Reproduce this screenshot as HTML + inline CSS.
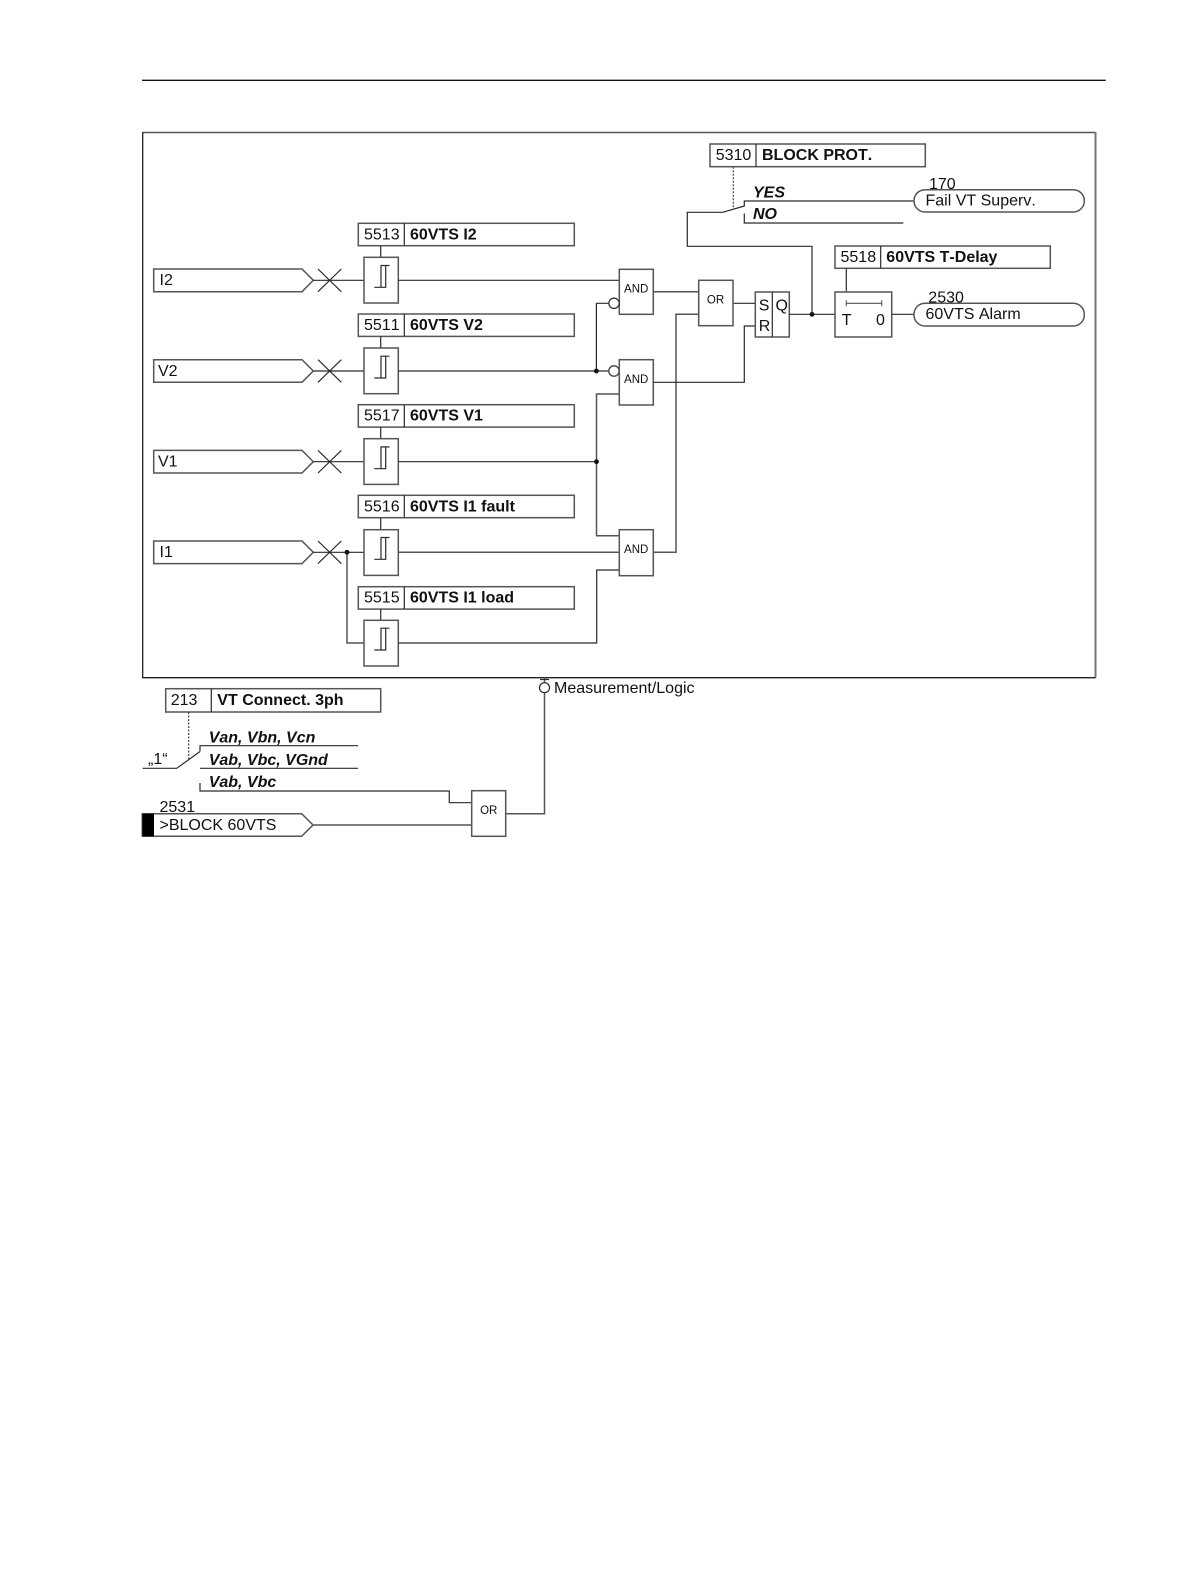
<!DOCTYPE html>
<html>
<head>
<meta charset="utf-8">
<title>60VTS logic diagram</title>
<style>
html,body{margin:0;padding:0;background:#fff;width:1191px;height:1587px;overflow:hidden}
svg{display:block}
.l{fill:none;stroke:#2a2a2a;stroke-width:1.2}
.m{fill:none;stroke:#555;stroke-width:1.5}
.b{fill:#fff;stroke:#555;stroke-width:1.5}
text{font-family:"Liberation Sans",sans-serif;font-size:16px;fill:#111;font-kerning:none}
.h{font-weight:bold}
.i{font-weight:bold;font-style:italic}
.g{font-size:11.5px;text-anchor:middle}
</style>
</head>
<body>
<svg width="1191" height="1587" viewBox="0 0 1191 1587" xmlns="http://www.w3.org/2000/svg">
<path d="M142 80.3H1105.7" fill="none" stroke="#111" stroke-width="1.4"/>
<path d="M142.7 132.5H1095.5" fill="none" stroke="#555" stroke-width="1.5"/>
<path d="M1095.5 132V677.7" fill="none" stroke="#777" stroke-width="2"/>
<path d="M142.7 132V677.7H1095.5" fill="none" stroke="#222" stroke-width="1.3"/>

<!-- Input flags -->
<path class="b" d="M153.7 269H302L313.3 280.3L302 291.7H153.7Z"/>
<path class="b" d="M153.7 359.7H302L313.3 371L302 382.3H153.7Z"/>
<path class="b" d="M153.7 450.4H302L313.3 461.7L302 473H153.7Z"/>
<path class="b" d="M153.7 541H302L313.3 552.3L302 563.6H153.7Z"/>
<text x="159.5" y="285">I2</text>
<text x="158" y="376">V2</text>
<text x="158" y="466.5">V1</text>
<text x="159.5" y="557">I1</text>

<!-- Input lines and crosses -->
<path class="l" d="M313.3 280.3H363.7M318 269L341.3 291.7M318 291.7L341.3 269"/>
<path class="l" d="M313.3 371H363.7M318 359.7L341.3 382.3M318 382.3L341.3 359.7"/>
<path class="l" d="M313.3 461.7H363.7M318 450.4L341.3 473M318 473L341.3 450.4"/>
<path class="l" d="M313.3 552.3H364M318 541L341.3 563.6M318 563.6L341.3 541"/>
<path class="m" d="M347 552.3V643H364"/>
<circle cx="347" cy="552.3" r="2.4" fill="#111"/>

<!-- Parameter boxes -->
<rect class="b" x="358.3" y="223.3" width="216" height="22.4"/>
<path class="l" d="M404.3 223.3V245.7M380.7 245.7V257.3"/>
<text x="364" y="239.3">5513</text><text class="h" x="410" y="239.3">60VTS I2</text>

<rect class="b" x="358.3" y="314" width="216" height="22.4"/>
<path class="l" d="M404.3 314V336.4M380.7 336.4V348"/>
<text x="364" y="330">5511</text><text class="h" x="410" y="330">60VTS V2</text>

<rect class="b" x="358.3" y="404.7" width="216" height="22.4"/>
<path class="l" d="M404.3 404.7V427.1M380.7 427.1V438.7"/>
<text x="364" y="420.7">5517</text><text class="h" x="410" y="420.7">60VTS V1</text>

<rect class="b" x="358.3" y="495.3" width="216" height="22.4"/>
<path class="l" d="M404.3 495.3V517.7M380.7 517.7V529.7"/>
<text x="364" y="511.3">5516</text><text class="h" x="410" y="511.3">60VTS I1 fault</text>

<rect class="b" x="358.3" y="586.7" width="216" height="22.4"/>
<path class="l" d="M404.3 586.7V609.1M380.7 609.1V620.3"/>
<text x="364" y="602.7">5515</text><text class="h" x="410" y="602.7">60VTS I1 load</text>

<!-- Hysteresis blocks -->
<rect class="b" x="364" y="257.3" width="34.3" height="45.7"/>
<path class="l" d="M374.3 287.3H385.7V265.5H389.5M381 287.3V265.5H385.7"/>
<rect class="b" x="364" y="348" width="34.3" height="45.7"/>
<path class="l" d="M374.3 378H385.7V356.2H389.5M381 378V356.2H385.7"/>
<rect class="b" x="364" y="438.7" width="34.3" height="45.7"/>
<path class="l" d="M374.3 468.7H385.7V446.9H389.5M381 468.7V446.9H385.7"/>
<rect class="b" x="364" y="529.7" width="34.3" height="45.7"/>
<path class="l" d="M374.3 559.3H385.7V537.5H389.5M381 559.3V537.5H385.7"/>
<rect class="b" x="364" y="620.3" width="34.3" height="45.7"/>
<path class="l" d="M374.3 650H385.7V628.2H389.5M381 650V628.2H385.7"/>

<!-- Wiring to AND gates -->
<path class="l" d="M398.3 280.3H619.3"/>
<path class="l" d="M398.3 371H609"/>
<path class="l" d="M398.3 461.7H596.5"/>
<path class="m" d="M398.3 552.3H619.3"/>
<path class="l" d="M398.3 643H596.7V570H619.3"/>
<path class="l" d="M609 303.3H596.4V371"/>
<path class="m" d="M619.3 394H596.5V535.7H619.3"/>
<circle cx="596.4" cy="371" r="2.4" fill="#111"/>
<circle cx="596.5" cy="461.7" r="2.4" fill="#111"/>

<!-- AND gates -->
<rect class="b" x="619.3" y="269.3" width="34" height="45"/>
<rect class="b" x="619.3" y="359.7" width="34" height="45.3"/>
<rect class="b" x="619.3" y="529.7" width="34" height="46"/>
<circle class="l" cx="614" cy="303.3" r="5.2" style="fill:#fff"/>
<circle class="b" cx="614" cy="371" r="5.2"/>
<text class="g" x="636.2" y="292.5">AND</text>
<text class="g" x="636.2" y="383">AND</text>
<text class="g" x="636.2" y="553">AND</text>

<!-- OR and SR -->
<path class="m" d="M653.3 291.7H698.7"/>
<path class="m" d="M653.3 552.3H676V314.3H698.7"/>
<path class="l" d="M653.3 382.3H744.3V326H755.3"/>
<path class="l" d="M733 303.3H755.3"/>
<rect class="b" x="698.7" y="280.3" width="34.3" height="45.4"/>
<text class="g" x="715.5" y="303.7">OR</text>
<rect class="b" x="755.3" y="292" width="34" height="45"/>
<path class="l" d="M772.3 292V337"/>
<text x="758.7" y="310.3">S</text>
<text x="758.7" y="331">R</text>
<text x="775.5" y="310.3">Q</text>

<!-- Output, timer -->
<path class="l" d="M789.3 314.3H835"/>
<circle cx="812" cy="314.3" r="2.4" fill="#111"/>
<path class="l" d="M812 314.3V246.3H687.3V212.3H722.7L744.3 206V201H914"/>
<path class="l" d="M744.3 213.5V223H903.3"/>
<path d="M733.3 166.7V208.5" fill="none" stroke="#333" stroke-width="1.1" stroke-dasharray="2 1.5"/>

<rect class="b" x="710" y="144" width="215.3" height="22.7"/>
<path class="l" d="M756 144V166.7"/>
<text x="715.7" y="160">5310</text><text class="h" x="762" y="160">BLOCK PROT.</text>
<text class="i" x="753" y="197.7">YES</text>
<text class="i" x="753" y="219">NO</text>

<text x="929" y="189">170</text>
<rect class="b" x="914" y="189.7" width="170.3" height="22.3" rx="11" ry="11"/>
<text x="925.5" y="205.7">Fail VT Superv.</text>

<rect class="b" x="835" y="246" width="215.3" height="22.3"/>
<path class="l" d="M880.7 246V268.3M846.3 268.3V292"/>
<text x="840.5" y="262">5518</text><text class="h" x="886.3" y="262">60VTS T-Delay</text>

<rect class="b" x="835" y="292" width="56.7" height="45"/>
<path d="M846.3 303.3H881.7M846.3 300.3V306.3M881.7 300.3V306.3" fill="none" stroke="#555" stroke-width="1.1"/>
<text x="841.7" y="325">T</text>
<text x="876" y="325">0</text>
<path class="l" d="M891.7 314.3H914"/>

<text x="928.3" y="302.3">2530</text>
<rect class="b" x="914" y="303.3" width="170.3" height="22.7" rx="11" ry="11"/>
<text x="925.5" y="319">60VTS Alarm</text>

<!-- Lower section -->
<rect class="b" x="165.7" y="688.7" width="215" height="23.3"/>
<path class="l" d="M211.3 688.7V712"/>
<text x="170.7" y="705">213</text><text class="h" x="217.3" y="705">VT Connect. 3ph</text>
<path d="M188.7 712V759" fill="none" stroke="#333" stroke-width="1.1" stroke-dasharray="2 1.5"/>

<text class="i" x="208.7" y="742.3">Van, Vbn, Vcn</text>
<text class="i" x="208.7" y="765">Vab, Vbc, VGnd</text>
<text class="i" x="208.7" y="787">Vab, Vbc</text>
<text x="148" y="764">„1“</text>

<path class="l" d="M142.7 768.3H176.7L200 751.5M200 751.5V745.7H358"/>
<path class="l" d="M200 768.3H358"/>
<path class="l" d="M200 783V791H449.3V802.7H471.7"/>

<text x="159.5" y="812">2531</text>
<path class="b" d="M142.3 813.7H301.7L313 825L301.7 836.3H142.3Z"/>
<rect x="142.3" y="813.7" width="11.7" height="22.6" fill="#000"/>
<text x="159.5" y="830">&gt;BLOCK 60VTS</text>
<path class="m" d="M313 825H471.7"/>

<rect class="b" x="471.7" y="790.7" width="34" height="45.6"/>
<text class="g" x="488.7" y="814">OR</text>
<path class="m" d="M505.7 813.7H544.5V692.9"/>
<path class="m" d="M544.5 677.3V682.5"/>
<path class="l" d="M540 679.5H549"/>
<circle class="l" cx="544.5" cy="687.7" r="5" style="fill:#fff"/>
<text x="554" y="693">Measurement/Logic</text>
</svg>
</body>
</html>
